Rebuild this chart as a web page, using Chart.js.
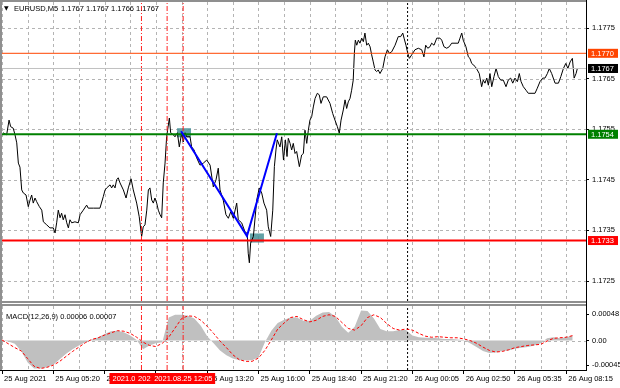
<!DOCTYPE html>
<html>
<head>
<meta charset="utf-8">
<script src="https://cdn.jsdelivr.net/npm/chart.js@4.4.1/dist/chart.umd.min.js"></script>
<style>
  html, body { margin: 0; padding: 0; background: #fff; }
  #wrap { position: relative; width: 620px; height: 388px; overflow: hidden; }
  canvas { position: absolute; left: 0; }
  #main { top: 0; }
  #macd { top: 303px; }
</style>
</head>
<body>
<div id="wrap">
  <canvas id="main" width="620" height="303"></canvas>
  <canvas id="macd" width="620" height="85"></canvas>
</div>
<script>
// EURUSD M5 close line: [bar index, price]
const closeLine = [
  [0.6, 1.17543], [2.9, 1.17539], [4.4, 1.17568], [5.4, 1.17555], [7.0, 1.17552], [8.1, 1.17539],
  [9.2, 1.17523], [10.2, 1.17483], [11.2, 1.17475], [12.3, 1.17430], [13.3, 1.17424], [15.0, 1.17420],
  [16.4, 1.17397], [17.5, 1.17410], [18.5, 1.17420], [19.5, 1.17404], [20.6, 1.17414], [21.6, 1.17407],
  [23.3, 1.17397], [24.8, 1.17390], [25.8, 1.17367], [27.9, 1.17361], [29.9, 1.17355], [32.0, 1.17355],
  [33.1, 1.17345], [34.1, 1.17365], [35.1, 1.17390], [36.2, 1.17375], [37.2, 1.17384], [38.2, 1.17371],
  [39.3, 1.17381], [40.4, 1.17365], [41.4, 1.17355], [42.4, 1.17371], [43.5, 1.17365], [45.5, 1.17367],
  [47.6, 1.17365], [48.7, 1.17381], [50.7, 1.17390], [52.8, 1.17400], [53.8, 1.17394], [57.0, 1.17394],
  [61.1, 1.17394], [63.2, 1.17417], [64.3, 1.17430], [65.3, 1.17434], [67.4, 1.17440], [68.4, 1.17434],
  [69.4, 1.17440], [70.5, 1.17434], [71.5, 1.17450], [72.5, 1.17454], [73.6, 1.17444], [75.7, 1.17430],
  [77.4, 1.17414], [78.8, 1.17434], [80.5, 1.17452], [81.9, 1.17430], [84.0, 1.17404], [85.6, 1.17377],
  [87.1, 1.17338], [88.1, 1.17357], [89.2, 1.17361], [90.3, 1.17390], [91.3, 1.17430], [92.3, 1.17434],
  [93.4, 1.17410], [94.4, 1.17404], [95.4, 1.17414], [96.5, 1.17404], [97.5, 1.17390], [98.6, 1.17381],
  [99.6, 1.17375], [100.6, 1.17444], [101.7, 1.17483], [102.7, 1.17535], [104.4, 1.17572], [105.2, 1.17543],
  [106.9, 1.17539], [107.9, 1.17535], [109.4, 1.17543], [110.6, 1.17515], [112.1, 1.17543], [113.1, 1.17525],
  [114.2, 1.17543], [115.2, 1.17535], [117.3, 1.17535], [118.3, 1.17515], [119.8, 1.17509], [121.5, 1.17493],
  [123.5, 1.17479], [125.6, 1.17483], [127.7, 1.17489], [129.8, 1.17479], [131.8, 1.17436], [133.5, 1.17450],
  [134.9, 1.17473], [136.0, 1.17430], [138.0, 1.17410], [139.7, 1.17381], [141.2, 1.17374], [142.7, 1.17387],
  [144.3, 1.17374], [146.4, 1.17404], [147.4, 1.17371], [149.5, 1.17365], [151.6, 1.17347], [153.0, 1.17344],
  [153.6, 1.17305], [154.3, 1.17286], [155.1, 1.17325], [156.8, 1.17338], [158.9, 1.17410], [160.5, 1.17434],
  [162.0, 1.17424], [163.4, 1.17404], [165.1, 1.17390], [166.1, 1.17357], [167.6, 1.17338], [168.9, 1.17390],
  [169.9, 1.17476], [170.9, 1.17509], [171.7, 1.17529], [173.4, 1.17515], [174.5, 1.17535], [175.6, 1.17489],
  [176.8, 1.17529], [177.8, 1.17496], [178.6, 1.17532], [179.7, 1.17522], [180.7, 1.17509], [181.7, 1.17522],
  [182.8, 1.17502], [183.8, 1.17506], [185.5, 1.17476], [186.9, 1.17499], [188.0, 1.17502], [189.0, 1.17548],
  [190.1, 1.17522], [191.1, 1.17548], [192.1, 1.17568], [193.2, 1.17575], [194.2, 1.17594], [195.3, 1.17611],
  [196.7, 1.17621], [197.9, 1.17618], [199.0, 1.17601], [200.4, 1.17614], [202.5, 1.17614], [204.6, 1.17601],
  [206.3, 1.17581], [207.7, 1.17568], [209.2, 1.17555], [210.4, 1.17542], [211.5, 1.17568], [212.9, 1.17588],
  [214.0, 1.17608], [215.0, 1.17591], [216.0, 1.17604], [217.1, 1.17611], [218.1, 1.17627], [219.1, 1.17647],
  [219.8, 1.17700], [220.4, 1.17726], [221.3, 1.17716], [222.3, 1.17726], [223.3, 1.17720], [224.4, 1.17730],
  [225.4, 1.17723], [226.4, 1.17740], [227.5, 1.17716], [228.5, 1.17720], [229.6, 1.17713], [230.6, 1.17697],
  [231.6, 1.17683], [232.7, 1.17667], [233.7, 1.17664], [234.7, 1.17667], [235.8, 1.17660], [237.5, 1.17670],
  [238.9, 1.17693], [240.4, 1.17707], [241.6, 1.17700], [243.1, 1.17703], [245.2, 1.17716], [247.2, 1.17733],
  [248.7, 1.17733], [250.0, 1.17740], [250.8, 1.17730], [252.0, 1.17716], [253.1, 1.17700], [254.1, 1.17690],
  [255.6, 1.17697], [257.6, 1.17707], [259.7, 1.17710], [261.8, 1.17707], [263.2, 1.17693], [264.3, 1.17716],
  [265.6, 1.17710], [267.0, 1.17713], [268.0, 1.17720], [269.5, 1.17716], [271.2, 1.17730], [273.2, 1.17730],
  [274.3, 1.17726], [275.7, 1.17713], [277.4, 1.17710], [279.0, 1.17713], [280.5, 1.17720], [284.6, 1.17720],
  [285.7, 1.17730], [286.8, 1.17740], [287.7, 1.17726], [289.4, 1.17713], [290.9, 1.17693], [291.9, 1.17690],
  [293.0, 1.17680], [295.1, 1.17674], [296.5, 1.17667], [297.7, 1.17660], [299.2, 1.17634], [300.2, 1.17647],
  [301.3, 1.17641], [302.4, 1.17651], [303.4, 1.17637], [304.4, 1.17660], [305.5, 1.17634], [306.9, 1.17654],
  [308.2, 1.17670], [309.6, 1.17654], [311.1, 1.17647], [312.7, 1.17647], [314.4, 1.17634], [315.8, 1.17647],
  [317.3, 1.17651], [318.6, 1.17641], [320.0, 1.17651], [321.5, 1.17644], [322.7, 1.17660], [323.8, 1.17644],
  [325.2, 1.17634], [326.9, 1.17627], [328.3, 1.17621], [332.5, 1.17621], [333.9, 1.17631], [335.6, 1.17644],
  [337.3, 1.17651], [338.7, 1.17651], [340.2, 1.17660], [341.4, 1.17670], [342.9, 1.17660], [345.0, 1.17641],
  [347.1, 1.17641], [348.6, 1.17654], [350.2, 1.17670], [351.7, 1.17680], [353.0, 1.17670], [354.4, 1.17683],
  [355.8, 1.17690], [356.9, 1.17651], [358.1, 1.17660], [358.9, 1.17670]
];

// MACD(12,26,9), one value every 4 bars starting at bar 0
const macdStep = 4;
const macdHist = [
  0, -0.00002, -0.00006, -0.00019, -0.00040, -0.00051, -0.00051, -0.00049, -0.00044, -0.00034,
  -0.00024, -0.00016, -0.00009, -0.00003, 0.00002, 0.00006, 0.00012, 0.00017, 0.00018, 0.00015,
  0.00009, 0.00001, -0.00016, -0.00009, -0.00005, -0.00003, 0.00042, 0.00047, 0.00047, 0.00045,
  0.00040, 0.00027, 0.00008, -0.00005, -0.00018, -0.00027, -0.00033, -0.00036, -0.00036, -0.00036,
  -0.00031, -0.00003, 0.00018, 0.00032, 0.00038, 0.00042, 0.00042, 0.00036, 0.00036, 0.00045,
  0.00051, 0.00052, 0.00044, 0.00025, 0.00014, 0.00025, 0.00055, 0.00054, 0.00040, 0.00021,
  0.00017, 0.00017, 0.00019, 0.00019, 0.00009, 0.00006, 0.00005, 0.00005, 0.00004, 0.00003,
  0.00003, 0.00002, 0.00001, -0.00005, -0.00012, -0.00019, -0.00023, -0.00022, -0.00019, -0.00018,
  -0.00015, -0.00013, -0.00012, -0.00009, -0.00005, 0.00004, 0.00006, 0.00004, 0.00006, 0.00009
];
const macdSignal = [
  0.00001, -0.00006, -0.00013, -0.00019, -0.00033, -0.00047, -0.00051, -0.00049, -0.00045, -0.00038,
  -0.00029, -0.00020, -0.00012, -0.00004, 0.00002, 0.00005, 0.00010, 0.00014, 0.00018, 0.00017,
  0.00013, 0.00006, -0.00003, -0.00009, -0.00011, -0.00005, 0.00006, 0.00023, 0.00040, 0.00045,
  0.00044, 0.00037, 0.00026, 0.00013, -0.00001, -0.00013, -0.00026, -0.00035, -0.00038, -0.00038,
  -0.00032, -0.00018, 0.00001, 0.00021, 0.00032, 0.00042, 0.00044, 0.00038, 0.00034, 0.00037,
  0.00044, 0.00047, 0.00044, 0.00033, 0.00022, 0.00019, 0.00027, 0.00042, 0.00047, 0.00042,
  0.00031, 0.00022, 0.00019, 0.00021, 0.00019, 0.00013, 0.00008, 0.00006, 0.00007, 0.00006,
  0.00005, 0.00005, 0.00003, 0.00000, -0.00005, -0.00012, -0.00018, -0.00021, -0.00020, -0.00017,
  -0.00013, -0.00011, -0.00009, -0.00008, -0.00007, -0.00001, 0.00004, 0.00005, 0.00006, 0.00009
];

// time axis
const timeLabels = ['25 Aug 2021', '25 Aug 05:20', '25 Aug 08:00', '25 Aug 10:40', '25 Aug 13:20', '25 Aug 16:00',
  '25 Aug 18:40', '25 Aug 21:20', '26 Aug 00:05', '26 Aug 02:50', '26 Aug 05:35', '26 Aug 08:15'];
const labelBars = [0, 32, 64, 96, 128, 160, 192, 224, 256, 288, 320, 352];
const gridBars = [0, 16, 32, 48, 64, 80, 96, 112, 128, 144, 160, 176, 192, 208, 224, 240, 256, 272, 288, 304, 320, 336, 352];

// price axis
const priceTicks = [1.1725, 1.1735, 1.1745, 1.1755, 1.1765, 1.1775];
const macdTicks = [-0.00045, 0, 0.00048];

// chart objects
const levelPrices = [1.1770, 1.1767, 1.1754, 1.1733];
const levelTexts = ['1.1770', '1.1767', '1.1754', '1.1733'];
const vLineBars = [87, 103, 113];
const vLineTexts = ['2021.08.25 09:55', '2021.08.25 11:15', '2021.08.25 12:05'];
const daySepBar = 253;
const trendLine = [[111.7, 1.17546], [152.8, 1.17339], [171.5, 1.17542]];
const boxes = [[109.2, 117.9, 1.17534, 1.17552], [154.7, 163.4, 1.17326, 1.17344]];

// styles
const font = '"Liberation Sans", Arial, "DejaVu Sans", sans-serif';
const gridColor = '#b4b4b4';
const frameGray = '#8f8f8f';
const levelLineColors = ['#ff4500', '#c0c0c0', '#008000', '#ff0000'];
const levelLineWidths = [1, 1, 2, 2];
const levelBoxColors = ['#ff4500', '#000000', '#008000', '#ff0000'];

const xMin = 0, xMax = 364.3;
const priceMin = 1.172105, priceMax = 1.178014;
const macdMin = -0.000538, macdMax = 0.00063;

Chart.defaults.font.family = font;
Chart.defaults.font.size = 7.5;
Chart.defaults.color = '#000';

function vLine(bar, lo, hi, color, dash) {
  return {
    data: [{ x: bar, y: lo }, { x: bar, y: hi }],
    borderColor: color, borderWidth: 1, borderDash: dash, order: 2
  };
}

// dashed grid, drawn on whole pixels so it stays sharp
function drawGrid(chart, yValues) {
  const { ctx, chartArea: a, scales: { x, y } } = chart;
  ctx.save();
  ctx.strokeStyle = gridColor;
  ctx.lineWidth = 1;
  ctx.setLineDash([3, 3]);
  ctx.beginPath();
  gridBars.forEach(b => {
    const px = Math.round(x.getPixelForValue(b)) + 0.5;
    ctx.moveTo(px, a.top);
    ctx.lineTo(px, a.bottom);
  });
  yValues.forEach(v => {
    const py = Math.round(y.getPixelForValue(v)) + 0.5;
    ctx.moveTo(a.left, py);
    ctx.lineTo(a.right, py);
  });
  ctx.stroke();
  ctx.restore();
}

// main panel datasets
const mainSets = [];
mainSets.push({
  data: trendLine.map(p => ({ x: p[0], y: p[1] })),
  borderColor: '#0000ff', borderWidth: 2, order: 0
});
levelPrices.forEach((p, i) => {
  mainSets.push({
    data: [{ x: xMin, y: p }, { x: xMax, y: p }],
    borderColor: levelLineColors[i], borderWidth: levelLineWidths[i], order: 1
  });
});
vLineBars.forEach(b => mainSets.push(vLine(b, priceMin, priceMax, '#ff2020', [5, 2, 1, 2])));
mainSets.push(vLine(daySepBar, priceMin, priceMax, '#000000', [2, 2]));
mainSets.push({
  data: closeLine.map(p => ({ x: p[0], y: p[1] })),
  borderColor: '#000000', borderWidth: 1, order: 3
});

const mainDecor = {
  id: 'mainDecor',
  beforeDatasetsDraw(chart) {
    const { ctx, scales: { x, y } } = chart;
    drawGrid(chart, priceTicks);
    ctx.save();
    ctx.fillStyle = 'rgba(70,145,150,0.85)';
    boxes.forEach(b => {
      const x0 = x.getPixelForValue(b[0]), x1 = x.getPixelForValue(b[1]);
      const y0 = y.getPixelForValue(b[3]), y1 = y.getPixelForValue(b[2]);
      ctx.fillRect(x0, y0, x1 - x0, y1 - y0);
    });
    ctx.restore();
  },
  afterDraw(chart) {
    const { ctx, scales: { y } } = chart;
    ctx.save();
    // frame
    ctx.fillStyle = frameGray;
    ctx.fillRect(0, 0, 587, 2);
    ctx.fillRect(0, 0, 2, 303);
    ctx.fillRect(0, 301, 587, 2);
    ctx.fillStyle = '#000';
    ctx.fillRect(586, 0, 1, 303);
    // level labels
    ctx.font = '7.5px ' + font;
    ctx.textBaseline = 'middle';
    levelPrices.forEach((p, i) => {
      const py = y.getPixelForValue(p);
      ctx.fillStyle = levelBoxColors[i];
      ctx.fillRect(588, py - 4.5, 30, 9);
      ctx.fillStyle = '#fff';
      ctx.fillText(levelTexts[i], 591, py + 0.5);
    });
    // title
    ctx.fillStyle = '#000';
    ctx.font = '6px "DejaVu Sans", sans-serif';
    ctx.fillText('▼', 4, 8.5);
    ctx.font = '7.5px ' + font;
    ctx.fillText('EURUSD,M5', 14, 8.5);
    ctx.fillText('1.1767 1.1767 1.1766 1.1767', 61, 8.5);
    ctx.restore();
  }
};

new Chart(document.getElementById('main'), {
  type: 'line',
  data: { datasets: mainSets },
  options: {
    responsive: false,
    animation: false,
    layout: { padding: { left: 2, top: 2, right: 0, bottom: 2 } },
    plugins: { legend: { display: false }, tooltip: { enabled: false } },
    elements: { point: { radius: 0 }, line: { tension: 0, fill: false } },
    scales: {
      x: {
        type: 'linear', min: xMin, max: xMax, offset: false,
        afterBuildTicks: s => { s.ticks = gridBars.map(v => ({ value: v })); },
        afterFit: s => { s.height = 0; s.paddingLeft = 0; s.paddingRight = 0; },
        ticks: { display: false },
        grid: { drawOnChartArea: false, drawTicks: false },
        border: { display: false }
      },
      y: {
        type: 'linear', position: 'right', min: priceMin, max: priceMax,
        afterBuildTicks: s => { s.ticks = priceTicks.map(v => ({ value: v })); },
        afterFit: s => { s.width = 34; s.paddingTop = 0; s.paddingBottom = 0; },
        ticks: { padding: 3, callback: v => v.toFixed(4) },
        grid: { drawOnChartArea: false, tickColor: '#000', tickLength: 3 },
        border: { display: false }
      }
    }
  },
  plugins: [mainDecor]
});

// MACD panel datasets
const macdSets = [
  {
    type: 'line',
    data: macdSignal.map((v, i) => ({ x: i * macdStep, y: v })),
    borderColor: '#ff0000', borderWidth: 1, borderDash: [3, 2], order: 0
  },
  {
    type: 'line',
    data: macdHist.map((v, i) => ({ x: i * macdStep, y: v })),
    borderWidth: 0, borderColor: 'rgba(0,0,0,0)',
    backgroundColor: '#c0c0c0', fill: 'origin', order: 4
  }
];
vLineBars.forEach(b => macdSets.push(vLine(b, macdMin, macdMax, '#ff2020', [5, 2, 1, 2])));
macdSets.push(vLine(daySepBar, macdMin, macdMax, '#000000', [2, 2]));

const macdDecor = {
  id: 'macdDecor',
  beforeDatasetsDraw(chart) {
    drawGrid(chart, [0]);
  },
  afterDraw(chart) {
    const { ctx, scales: { x } } = chart;
    ctx.save();
    ctx.fillStyle = frameGray;
    ctx.fillRect(0, 1, 587, 2);
    ctx.fillRect(0, 0, 2, 68);
    ctx.fillStyle = '#000';
    ctx.fillRect(586, 0, 1, 68);
    ctx.fillRect(0, 67, 587, 1);
    ctx.font = '7.5px ' + font;
    ctx.textBaseline = 'middle';
    ctx.fillText('MACD(12,26,9) 0.00006 0.00007', 6, 13.7);
    vLineBars.forEach((b, i) => {
      const px = x.getPixelForValue(b);
      ctx.fillStyle = '#ff0000';
      ctx.fillRect(px - 32, 70, 64, 11);
      ctx.fillStyle = '#fff';
      ctx.fillText(vLineTexts[i], px - 29, 75.5);
    });
    ctx.restore();
  }
};

new Chart(document.getElementById('macd'), {
  type: 'line',
  data: { datasets: macdSets },
  options: {
    responsive: false,
    animation: false,
    layout: { padding: { left: 2, top: 3, right: 0, bottom: 0 } },
    plugins: { legend: { display: false }, tooltip: { enabled: false }, filler: { propagate: false } },
    elements: { point: { radius: 0 }, line: { tension: 0 } },
    scales: {
      x: {
        type: 'linear', min: xMin, max: xMax, offset: false,
        afterBuildTicks: s => { s.ticks = gridBars.map(v => ({ value: v })); },
        afterFit: s => { s.height = 18; s.paddingLeft = 0; s.paddingRight = 0; },
        ticks: {
          autoSkip: false, maxRotation: 0, align: 'start', padding: 0, labelOffset: 2,
          callback: v => { const i = labelBars.indexOf(v); return i >= 0 ? timeLabels[i] : ''; }
        },
        grid: {
          drawOnChartArea: false, offset: false, tickLength: 4,
          tickColor: c => (c.tick && labelBars.includes(c.tick.value)) ? '#000' : 'rgba(0,0,0,0)'
        },
        border: { display: false }
      },
      y: {
        type: 'linear', position: 'right', min: macdMin, max: macdMax,
        afterBuildTicks: s => { s.ticks = macdTicks.map(v => ({ value: v })); },
        afterFit: s => { s.width = 34; s.paddingTop = 0; s.paddingBottom = 0; },
        ticks: { padding: 3, callback: v => v === 0 ? '0.00' : v.toFixed(5) },
        grid: { drawOnChartArea: false, tickColor: '#000', tickLength: 3 },
        border: { display: false }
      }
    }
  },
  plugins: [macdDecor]
});
</script>
</body>
</html>
